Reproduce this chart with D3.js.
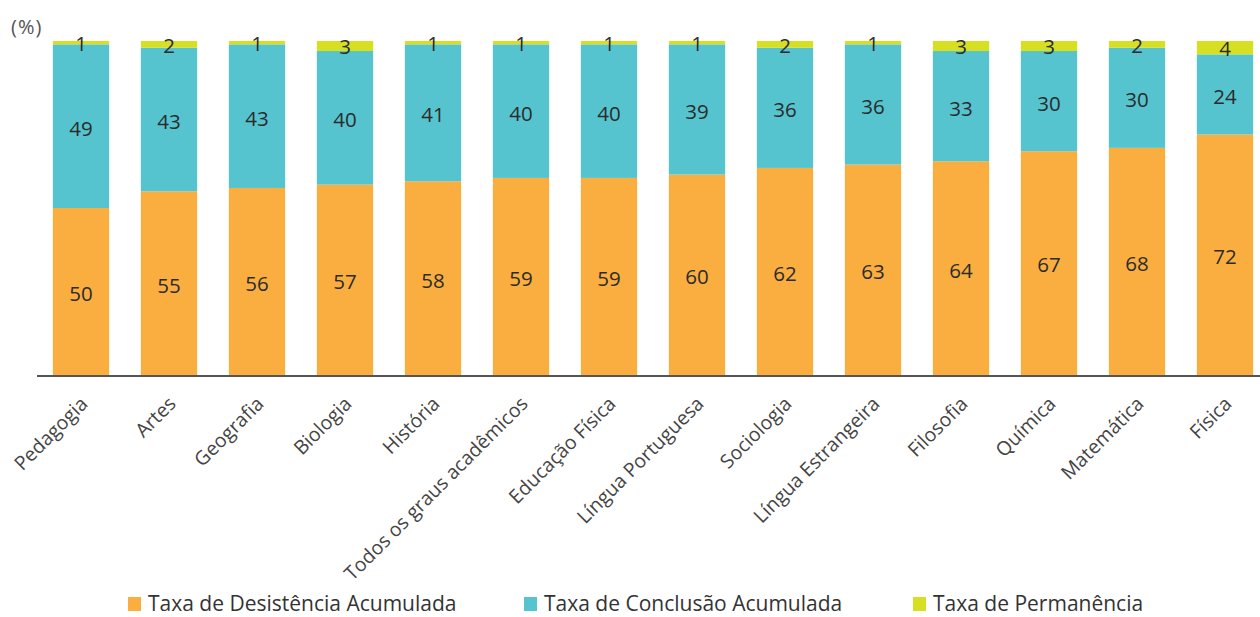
<!DOCTYPE html>
<html>
<head>
<meta charset="utf-8">
<script src="https://cdn.jsdelivr.net/npm/d3@7/dist/d3.min.js"></script>
<style>
  html, body { margin: 0; padding: 0; background: #fff; }
  svg { display: block; }
</style>
</head>
<body>
<svg id="chart" width="1260" height="617"></svg>
<script>
const categories = ["Pedagogia", "Artes", "Geografia", "Biologia", "História", "Todos os graus acadêmicos", "Educação Física", "Língua Portuguesa", "Sociologia", "Língua Estrangeira", "Filosofia", "Química", "Matemática", "Física"];
const desistencia = [50, 55, 56, 57, 58, 59, 59, 60, 62, 63, 64, 67, 68, 72];
const conclusao = [49, 43, 43, 40, 41, 40, 40, 39, 36, 36, 33, 30, 30, 24];
const permanencia = [1, 2, 1, 3, 1, 1, 1, 1, 2, 1, 3, 3, 2, 4];
const seriesNames = ["Taxa de Desistência Acumulada", "Taxa de Conclusão Acumulada", "Taxa de Permanência"];
const colors = ["#FBAE40", "#55C4CF", "#D7DF23"];

const svg = d3.select("#chart");
const margin = {left: 37, right: 0, top: 41, bottom: 242};
const W = 1260, H = 617;
const y0 = H - margin.bottom; // 375

const x = d3.scaleBand().domain(categories).range([37, 1269]).paddingInner(0.36).paddingOuter(0.18);
const y = d3.scaleLinear().domain([0, 100]).range([y0, margin.top]);

const rows = categories.map((c, i) => ({cat: c, d: desistencia[i], c: conclusao[i], p: permanencia[i]}));
const stack = d3.stack().keys(["d", "c", "p"]);
const stacked = stack(rows);

const font = "'Open Sans', 'Noto Sans', sans-serif";

const g = svg.append("g");
stacked.forEach((s, si) => {
  g.selectAll(null).data(s).enter().append("rect")
    .attr("x", d => x(d.data.cat))
    .attr("width", x.bandwidth())
    .attr("y", d => y(d[1]))
    .attr("height", d => y(d[0]) - y(d[1]))
    .attr("fill", colors[si]);
  g.selectAll(null).data(s).enter().append("text")
    .attr("x", d => x(d.data.cat) + x.bandwidth() / 2)
    .attr("y", d => (y(d[0]) + y(d[1])) / 2 + (si === 2 ? 1 : 2))
    .attr("dy", "0.36em")
    .attr("text-anchor", "middle")
    .attr("font-family", font)
    .attr("font-size", 20.5)
    .attr("fill", "#2b2b2b")
    .text(d => d[1] - d[0]);
});

// axis
const xAxis = d3.axisBottom(x).tickSize(0).tickPadding(0);
const ax = svg.append("g").attr("transform", `translate(0,${y0})`).call(xAxis);
ax.select(".domain").remove();
svg.append("line").attr("x1", 37).attr("x2", 1260).attr("y1", y0 + 1).attr("y2", y0 + 1)
  .attr("stroke", "#555").attr("stroke-width", 2.2);
ax.selectAll(".tick text")
  .attr("font-family", font)
  .attr("font-size", 19.5)
  .attr("fill", "#444")
  .attr("text-anchor", "end")
  .attr("dy", 0)
  .attr("y", 0)
  .attr("transform", "translate(8,30) rotate(-45)");

// (%) label
svg.append("text").attr("x", 11).attr("y", 34)
  .attr("font-family", font).attr("font-size", 20).attr("letter-spacing", 1).attr("fill", "#555")
  .text("(%)");

// legend
const legendX = [128, 524, 913];
const leg = svg.append("g");
seriesNames.forEach((n, i) => {
  leg.append("rect").attr("x", legendX[i]).attr("y", 597).attr("width", 13).attr("height", 14).attr("fill", colors[i]);
  leg.append("text").attr("x", legendX[i] + 20).attr("y", 603).attr("dy", "0.36em")
    .attr("font-family", font).attr("font-size", 21).attr("fill", "#333")
    .text(n);
});
</script>
</body>
</html>
